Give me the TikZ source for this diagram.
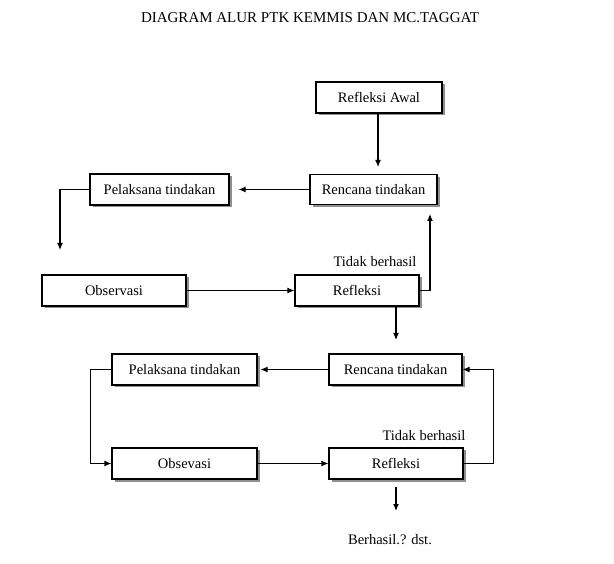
\documentclass[tikz,border=0pt]{standalone}
\usepackage{fontspec}
\setmainfont{Liberation Serif}
\usetikzlibrary{arrows.meta,shadows}
\begin{document}
\begin{tikzpicture}[x=1pt,y=-1pt,
  box/.style={draw,fill=white,line width=1.1pt,inner sep=0pt,minimum height=31pt,
    font=\fontsize{14.5}{17}\selectfont,
    drop shadow={shadow xshift=2.5pt,shadow yshift=-2.5pt,fill=black!55,opacity=0.8}},
  lbl/.style={inner sep=0pt,font=\fontsize{14.5}{17}\selectfont},
  arr/.style={line width=1.1pt,-{Latex[length=7pt,width=6pt]}},
  ln/.style={line width=1.1pt}]
\useasboundingbox (0,0) rectangle (614,564);
\node[lbl,font=\fontsize{15}{18}\selectfont] (title) at (310,18) {DIAGRAM ALUR PTK KEMMIS DAN MC.TAGGAT};
\node[box,minimum width=126pt] (ra) at (379,97.5) {Refleksi Awal};
\node[box,minimum width=127pt,minimum height=30pt] (rc1) at (373.5,189.5) {Rencana tindakan};
\node[box,minimum width=139pt] (pt1) at (159.5,189.5) {Pelaksana tindakan};
\node[box,minimum width=144pt] (ob1) at (114,290.5) {Observasi};
\node[box,minimum width=124pt] (rf1) at (357,290.5) {Refleksi};
\node[box,minimum width=133pt] (rc2) at (395.5,369.5) {Rencana tindakan};
\node[box,minimum width=145pt] (pt2) at (184.5,369.5) {Pelaksana tindakan};
\node[box,minimum width=145pt] (ob2) at (184.5,463.5) {Obsevasi};
\node[box,minimum width=134pt] (rf2) at (396,463.5) {Refleksi};
\node[lbl] (tb1) at (375,262) {Tidak berhasil};
\node[lbl] (tb2) at (424,436) {Tidak berhasil};
\node[lbl] (bh) at (390,540) {Berhasil.? dst.};
\coordinate (c1) at (60,250);
\coordinate (c2) at (430,214);
\coordinate (c3) at (396,340);
\coordinate (c4) at (396,487);
\coordinate (c5) at (396,511);
% connectors
\draw[arr,shorten >=7pt] (ra.south -| 378,0) -- (rc1.north -| 378,0);
\draw[arr,shorten >=9pt] (rc1.west) -- (pt1.east);
\draw[arr] (pt1.west) -| (c1);
\draw[arr] (ob1.east) -- (rf1.west);
\draw[arr] (rf1.east) -| (c2);
\draw[arr] (rf1.south -| c3) -- (c3);
\draw[arr,shorten >=3pt] (rc2.west) -- (pt2.east);
\draw[arr] (pt2.west) -- ++(-21,0) |- (ob2.west);
\draw[arr] (ob2.east) -- (rf2.west);
\draw[arr] (rf2.east) -- ++(30,0) |- (rc2.east);
\draw[arr] (c4) -- (c5);
\end{tikzpicture}
\end{document}
